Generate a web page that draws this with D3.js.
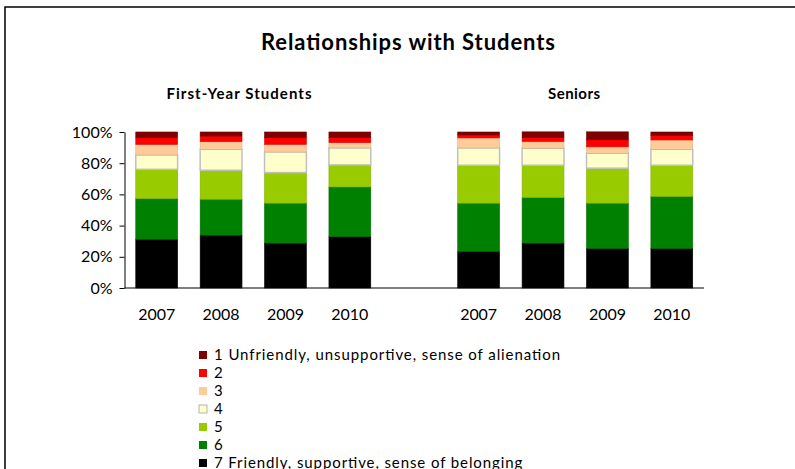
<!DOCTYPE html>
<html>
<head>
<meta charset="utf-8">
<script src="https://cdn.jsdelivr.net/npm/d3@7"></script>
<style>
  body { margin: 0; background: #fff; }
  text { font-family: Lato, "Open Sans", sans-serif; fill: #000; }
</style>
</head>
<body>
<svg id="svg" width="795" height="469"></svg>
<script>
// Data (percent of respondents)
var groups = ["First-Year Students", "Seniors"];
var years = ["2007", "2008", "2009", "2010"];
var levels = ["1 Unfriendly, unsupportive, sense of alienation", "2", "3", "4", "5", "6",
              "7 Friendly, supportive, sense of belonging"];
var colors = ["#7f0000", "#ff0000", "#ffcc99", "#ffffcc", "#99cc00", "#008000", "#000000"];

// values per year, ordered level 1 .. level 7
var firstYear = [
  [3.6, 4.3, 6.8, 9.2, 18.8, 26.0, 31.3],
  [2.6, 3.6, 4.9, 13.4, 18.6, 23.0, 33.9],
  [3.6, 4.3, 4.9, 13.2, 19.6, 25.6, 28.8],
  [3.6, 3.2, 3.4, 10.9, 14.1, 31.8, 33.0]
];
var seniors = [
  [1.9, 1.9, 6.4, 11.1, 24.3, 30.9, 23.5],
  [3.6, 2.6, 4.3, 10.9, 20.7, 29.2, 28.8],
  [5.1, 4.5, 4.1, 9.6, 22.4, 29.0, 25.4],
  [2.1, 3.0, 6.0, 10.2, 20.0, 33.3, 25.4]
];

var svg = d3.select("#svg");

// outer chart border
svg.append("rect")
    .attr("x", 5).attr("y", 7)
    .attr("width", 800).attr("height", 480)
    .attr("fill", "none").attr("stroke", "#000").attr("stroke-width", 1.5);

// build the slot list: 4 first-year, one empty slot, 4 seniors
var slots = [];
years.forEach(function(y, i) { slots.push({year: y, vals: firstYear[i]}); });
slots.push(null);
years.forEach(function(y, i) { slots.push({year: y, vals: seniors[i]}); });

var x = d3.scaleBand()
    .domain(d3.range(slots.length))
    .range([124.5, 704])
    .paddingInner(0.35)
    .paddingOuter(0.175);

var y = d3.scaleLinear().domain([0, 100]).range([288, 132]);

// stacked segments, level 7 at the bottom
var stacked = [];
slots.forEach(function(s, i) {
  if (!s) return;
  var acc = 0;
  for (var k = levels.length - 1; k >= 0; k--) {
    stacked.push({slot: i, level: k, y0: acc, y1: acc + s.vals[k]});
    acc += s.vals[k];
  }
});

svg.append("g").selectAll("rect")
    .data(stacked)
    .enter().append("rect")
      .attr("x", function(d) { return x(d.slot); })
      .attr("width", x.bandwidth())
      .attr("y", function(d) { return y(d.y1); })
      .attr("height", function(d) { return y(d.y0) - y(d.y1); })
      .attr("fill", function(d) { return colors[d.level]; })
      .attr("stroke", function(d) { return d.level == 3 ? "#c0c0c0" : d3.color(colors[d.level]).darker(0.4); })
      .attr("stroke-width", function(d) { return d.level == 3 ? 1.5 : 0.6; });

// y axis
var yAxis = svg.append("g")
    .attr("transform", "translate(124.5,0)")
    .call(d3.axisLeft(y).tickValues([0, 20, 40, 60, 80, 100])
      .tickFormat(function(d) { return d + "%"; })
      .tickSize(5).tickSizeOuter(0));
yAxis.select(".domain").attr("stroke", "#000");
yAxis.selectAll("line").attr("stroke", "#000");
yAxis.selectAll("text").attr("font-size", "16px").attr("x", -12)
    .style("font-family", "Lato, sans-serif");

// x axis line
svg.append("line")
    .attr("x1", 124.5).attr("x2", 704)
    .attr("y1", y(0)).attr("y2", y(0))
    .attr("stroke", "#000").attr("stroke-width", 1.2);

// year labels
svg.append("g").selectAll("text")
    .data(slots.map(function(s, i) { return {s: s, i: i}; }).filter(function(d) { return d.s; }))
    .enter().append("text")
      .attr("x", function(d) { return x(d.i) + x.bandwidth() / 2; })
      .attr("y", 320)
      .attr("text-anchor", "middle")
      .attr("font-size", "16px")
      .attr("textLength", 37)
      .text(function(d) { return d.s.year; });

// titles
svg.append("text")
    .attr("x", 408).attr("y", 50)
    .attr("text-anchor", "middle")
    .attr("font-size", "22px").attr("font-weight", "bold")
    .attr("textLength", 294)
    .text("Relationships with Students");

svg.append("text")
    .attr("x", 239).attr("y", 99)
    .attr("text-anchor", "middle")
    .attr("font-size", "15px").attr("font-weight", "bold")
    .attr("textLength", 145)
    .text(groups[0]);

svg.append("text")
    .attr("x", 574).attr("y", 99)
    .attr("text-anchor", "middle")
    .attr("font-size", "15px").attr("font-weight", "bold")
    .attr("textLength", 52)
    .text(groups[1]);

// legend
var legend = svg.append("g").selectAll("g")
    .data(levels)
    .enter().append("g")
      .attr("transform", function(d, i) { return "translate(199," + (355 + i * 18) + ")"; });

legend.append("rect")
    .attr("x", 0).attr("y", -4)
    .attr("width", 8).attr("height", 8)
    .attr("fill", function(d, i) { return colors[i]; })
    .attr("stroke", function(d, i) { return i == 3 ? "#a0a0a0" : "none"; })
    .attr("stroke-width", 0.8);

var legendText = legend.append("text")
    .attr("x", 15).attr("y", 5)
    .attr("font-size", "15px")
    .text(function(d) { return d; });

// stretch legend text to the reference's wide spacing
var ratio = 346 / legendText.node().getComputedTextLength();
legendText.attr("textLength", function() { return this.getComputedTextLength() * ratio; });
</script>
</body>
</html>
